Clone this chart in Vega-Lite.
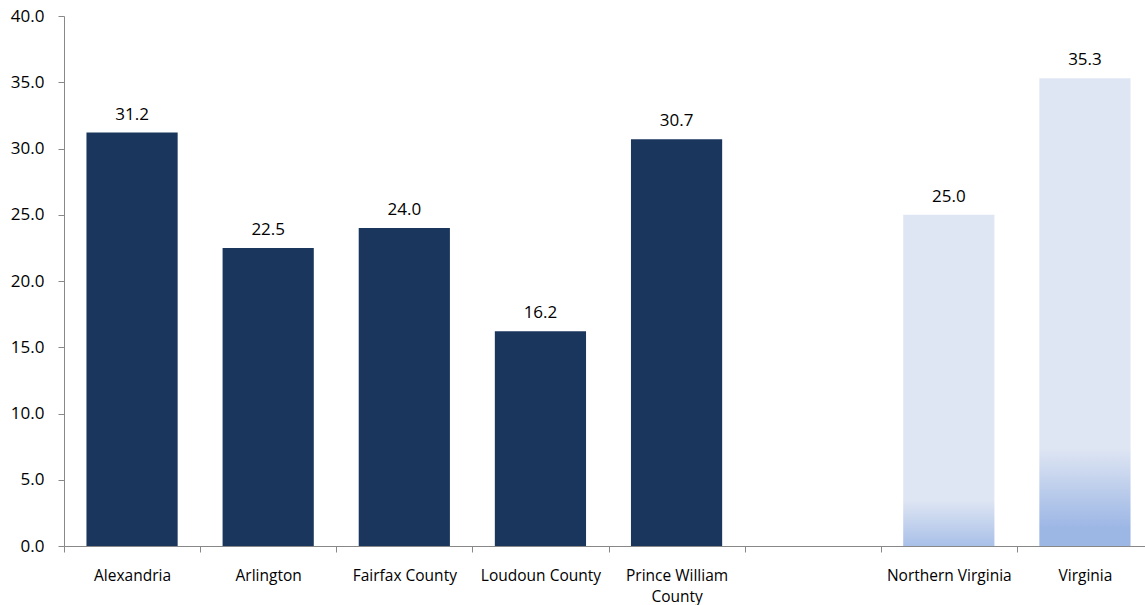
{
  "$schema": "https://vega.github.io/schema/vega-lite/v6.json",
  "width": 1089,
  "height": 530,
  "autosize": {"type": "none"},
  "padding": {"left": 64, "top": 16, "right": 0, "bottom": 59},
  "background": "white",
  "config": {"view": {"stroke": null}, "font": "Open Sans"},
  "data": {
    "values": [
      {"area": "Alexandria", "value": 31.2, "group": "county"},
      {"area": "Arlington", "value": 22.5, "group": "county"},
      {"area": "Fairfax County", "value": 24.0, "group": "county"},
      {"area": "Loudoun County", "value": 16.2, "group": "county"},
      {"area": "Prince William County", "value": 30.7, "group": "county"},
      {"area": "Northern Virginia", "value": 25.0, "group": "nova"},
      {"area": "Virginia", "value": 35.3, "group": "va"}
    ]
  },
  "encoding": {
    "x": {
      "field": "area",
      "type": "nominal",
      "sort": null,
      "scale": {
        "domain": ["Alexandria", "Arlington", "Fairfax County", "Loudoun County", "Prince William County", " ", "Northern Virginia", "Virginia"],
        "paddingInner": 0,
        "paddingOuter": 0
      },
      "axis": {
        "title": null,
        "labelAngle": 0,
        "labelFontSize": 15.5,
        "labelColor": "#000000",
        "labelPadding": 16,
        "tickBand": "extent",
        "tickSize": 6,
        "tickColor": "#888888",
        "domainColor": "#888888",
        "labelExpr": "datum.label == 'Prince William County' ? ['Prince William', 'County'] : datum.label",
        "labelLineHeight": 21
      }
    },
    "y": {
      "field": "value",
      "type": "quantitative",
      "scale": {"domain": [0, 40], "nice": false},
      "axis": {
        "title": null,
        "values": [0, 5, 10, 15, 20, 25, 30, 35, 40],
        "format": ".1f",
        "grid": false,
        "labelFontSize": 17,
        "labelColor": "#000000",
        "tickSize": 6,
        "tickColor": "#888888",
        "domainColor": "#888888",
        "labelPadding": 14
      }
    }
  },
  "layer": [
    {
      "transform": [{"filter": "datum.group == 'county'"}],
      "mark": {"type": "bar", "color": "#1B365D", "width": {"band": 0.67}}
    },
    {
      "transform": [{"filter": "datum.group == 'nova'"}],
      "mark": {
        "type": "bar",
        "width": {"band": 0.67},
        "color": {
          "gradient": "linear", "x1": 0, "y1": 0, "x2": 0, "y2": 1,
          "stops": [
            {"offset": 0, "color": "#DFE6F3"},
            {"offset": 0.86, "color": "#DFE6F3"},
            {"offset": 1, "color": "#A9C0E8"}
          ]
        }
      }
    },
    {
      "transform": [{"filter": "datum.group == 'va'"}],
      "mark": {
        "type": "bar",
        "width": {"band": 0.67},
        "color": {
          "gradient": "linear", "x1": 0, "y1": 0, "x2": 0, "y2": 1,
          "stops": [
            {"offset": 0, "color": "#DFE6F3"},
            {"offset": 0.79, "color": "#DFE6F3"},
            {"offset": 0.96, "color": "#9DB7E5"},
            {"offset": 1, "color": "#9DB7E5"}
          ]
        }
      }
    },
    {
      "mark": {"type": "text", "baseline": "alphabetic", "dy": -13, "fontSize": 17, "color": "#000000"},
      "encoding": {"text": {"field": "value", "type": "quantitative", "format": ".1f"}}
    }
  ]
}
